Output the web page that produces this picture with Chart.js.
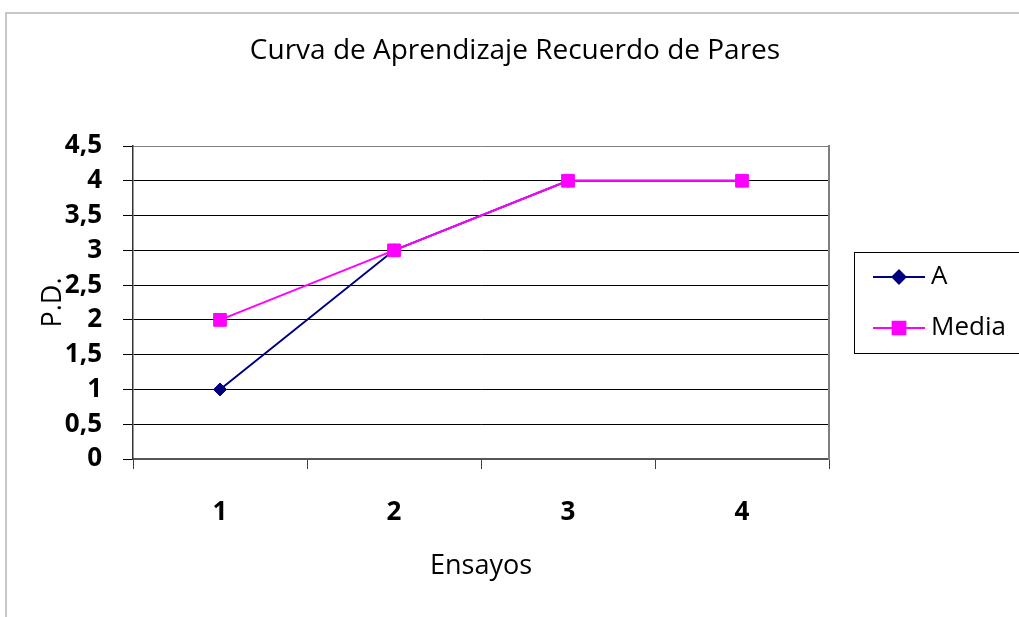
<!DOCTYPE html>
<html>
<head>
<meta charset="utf-8">
<script src="https://cdn.jsdelivr.net/npm/chart.js@4/dist/chart.umd.min.js"></script>
<style>
html,body{margin:0;padding:0;background:#fff;}
canvas{display:block;}
</style>
</head>
<body>
<canvas id="c" width="1019" height="617"></canvas>
<script>
const categories = ['1', '2', '3', '4'];
const seriesA = [1, 3, 4, 4];
const seriesMedia = [2, 3, 4, 4];
const seriesNames = ['A', 'Media'];
const yTicks = [0, 0.5, 1, 1.5, 2, 2.5, 3, 3.5, 4, 4.5];
const chartTitle = 'Curva de Aprendizaje Recuerdo de Pares';
const xTitle = 'Ensayos';
const yTitle = 'P.D.';

const FONT = "'Open Sans', 'Liberation Sans', sans-serif";

const frameAndLegend = {
  id: 'frameAndLegend',
  beforeDraw(chart) {
    const ctx = chart.ctx;
    ctx.save();
    ctx.fillStyle = '#fff';
    ctx.fillRect(0, 0, chart.width, chart.height);
    ctx.strokeStyle = '#c8c8c8';
    ctx.lineWidth = 2;
    ctx.beginPath();
    ctx.moveTo(6, chart.height);
    ctx.lineTo(6, 13);
    ctx.lineTo(chart.width, 13);
    ctx.stroke();
    ctx.restore();
  },
  afterDraw(chart) {
    const ctx = chart.ctx;
    ctx.save();
    ctx.strokeStyle = '#000';
    ctx.lineWidth = 1;
    ctx.strokeRect(854.5, 252.5, 200, 101);
    const rowsY = [277, 328];
    chart.data.datasets.slice().sort((a, b) => a.legendIndex - b.legendIndex).forEach((ds, i) => {
      const y = rowsY[i];
      ctx.strokeStyle = ds.borderColor;
      ctx.lineWidth = 2;
      ctx.beginPath();
      ctx.moveTo(873, y);
      ctx.lineTo(925, y);
      ctx.stroke();
      Chart.helpers.drawPoint(ctx, {
        pointStyle: ds.pointStyle,
        radius: ds.pointRadius,
        rotation: 0,
        borderWidth: 1
      }, 899, y);
      ctx.fillStyle = ds.pointBackgroundColor;
      ctx.strokeStyle = ds.pointBorderColor;
      ctx.fill();
      ctx.fillStyle = '#000';
      ctx.font = "26px " + FONT;
      ctx.textAlign = 'left';
      ctx.textBaseline = 'middle';
      ctx.fillText(ds.label, 931, y);
    });
    ctx.restore();
  }
};

new Chart(document.getElementById('c'), {
  type: 'line',
  data: {
    labels: categories,
    datasets: [
      {
        label: seriesNames[0],
        legendIndex: 0,
        data: seriesA,
        borderColor: '#000080',
        backgroundColor: '#000080',
        pointBackgroundColor: '#000080',
        pointBorderColor: '#000080',
        pointStyle: 'rectRot',
        pointRadius: 6.5,
        pointBorderWidth: 1,
        borderWidth: 2,
        tension: 0,
        order: 2
      },
      {
        label: seriesNames[1],
        legendIndex: 1,
        data: seriesMedia,
        borderColor: '#ff00ff',
        backgroundColor: '#ff00ff',
        pointBackgroundColor: '#ff00ff',
        pointBorderColor: '#ff00ff',
        pointStyle: 'rect',
        pointRadius: 9,
        pointBorderWidth: 1,
        borderWidth: 2,
        tension: 0,
        order: 1
      }
    ]
  },
  options: {
    responsive: false,
    animation: false,
    layout: { padding: { left: 11, right: 0, top: 0, bottom: 0 } },
    plugins: {
      legend: { display: false },
      tooltip: { enabled: false },
      title: {
        display: true,
        text: chartTitle,
        color: '#000',
        font: { family: FONT, size: 28, weight: 'normal', lineHeight: 1.2 },
        padding: { top: 34, bottom: 78.4 }
      }
    },
    scales: {
      x: {
        type: 'category',
        offset: true,
        afterFit(s) { s.height = 158; },
        grid: {
          display: true,
          drawOnChartArea: false,
          drawTicks: true,
          tickLength: 10,
          offset: true,
          color: '#404040',
          tickColor: '#404040'
        },
        border: { display: true, color: '#555', width: 2 },
        ticks: {
          color: '#000',
          padding: 28,
          font: { family: FONT, size: 26, weight: 'bold', lineHeight: 1.2 },
          maxRotation: 0
        },
        title: {
          display: true,
          text: xTitle,
          color: '#000',
          font: { family: FONT, size: 27, weight: 'normal', lineHeight: 1.2 },
          padding: { top: 0, bottom: 34 }
        }
      },
      y: {
        type: 'linear',
        position: 'left',
        min: 0,
        max: 4.5,
        afterFit(s) { s.width = 122; },
        afterBuildTicks(s) { s.ticks = yTicks.map(v => ({ value: v })); },
        grid: {
          color: (c) => (c.tick && c.tick.value === 4.5) ? '#808080' : '#000',
          tickColor: '#000',
          lineWidth: 1,
          tickLength: 10
        },
        border: { display: true, color: '#333', width: 1.5 },
        ticks: {
          color: '#000',
          padding: 21,
          font: { family: FONT, size: 26, weight: 'bold', lineHeight: 1.2 },
          callback: (v) => String(v).replace('.', ',')
        },
        title: {
          display: true,
          text: yTitle,
          color: '#000',
          font: { family: FONT, size: 27, weight: 'normal', lineHeight: 1.2 },
          padding: { top: 26, bottom: 0 }
        }
      },
      yRight: {
        type: 'linear',
        position: 'right',
        display: true,
        afterFit(s) { s.width = 190; },
        grid: { drawOnChartArea: false, drawTicks: false, display: false },
        border: { display: true, color: '#808080', width: 2 },
        ticks: { display: false }
      }
    }
  },
  plugins: [frameAndLegend]
});
</script>
</body>
</html>
